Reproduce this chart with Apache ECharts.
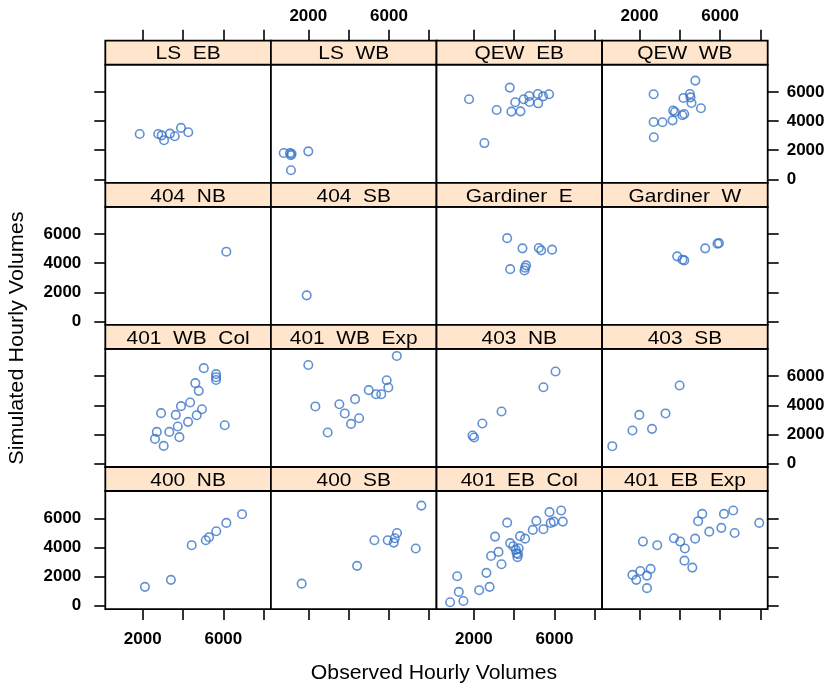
<!DOCTYPE html>
<html>
<head>
<meta charset="utf-8">
<script src="https://cdn.jsdelivr.net/npm/echarts@6/dist/echarts.min.js"></script>
<style>html,body{margin:0;padding:0;background:#fff}#c{width:833px;height:686px}</style>
</head>
<body>
<div id="c"></div>
<script>
// ---- data ----
const panelNames = ['LS  EB','LS  WB','QEW  EB','QEW  WB',
                    '404  NB','404  SB','Gardiner  E','Gardiner  W',
                    '401  WB  Col','401  WB  Exp','403  NB','403  SB',
                    '400  NB','400  SB','401  EB  Col','401  EB  Exp'];
const xTicks = [2000, 4000, 6000, 8000];
const xTickLabels = [2000, 6000];
const yTicks = [0, 2000, 4000, 6000];

const LS_EB_obs = [1850, 2770, 2940, 3060, 3350, 3590, 3900, 4260];
const LS_EB_sim = [3110, 3110, 3020, 2680, 3140, 2960, 3530, 3230];
const LS_WB_obs = [780, 1090, 1130, 1170, 2000, 1140];
const LS_WB_sim = [1810, 1810, 1650, 1750, 1920, 620];
const QEW_EB_obs = [1760, 2520, 3130, 3780, 3860, 4050, 4310, 4470, 4740, 4760, 5170, 5190, 5430, 5730];
const QEW_EB_sim = [5500, 2490, 4760, 6300, 4650, 5290, 4670, 5500, 5720, 5310, 5860, 5220, 5700, 5840];
const QEW_WB_obs = [2700, 2700, 2710, 3140, 3640, 3670, 3760, 4130, 4220, 4180, 4500, 4530, 4580, 4770, 5050];
const QEW_WB_sim = [5840, 3940, 2890, 3920, 4050, 4720, 4620, 4400, 4490, 5590, 5860, 5630, 5240, 6780, 4880];
const N404_NB_obs = [6150];
const N404_NB_sim = [4790];
const N404_SB_obs = [1920];
const N404_SB_sim = [1790];
const GAR_E_obs = [3650, 4410, 5220, 5340, 5880, 3800, 4510, 4590, 4540];
const GAR_E_sim = [5720, 5020, 5040, 4880, 4930, 3590, 3500, 3850, 3690];
const GAR_W_obs = [3870, 4220, 4130, 5260, 5940, 5870];
const GAR_W_sim = [4470, 4190, 4240, 5020, 5380, 5340];
const WB401_COL_obs = [5030, 5640, 5640, 5640, 4610, 4780, 4350, 3900, 3640, 2910, 4940, 4680, 4250, 3740, 3320, 2700, 2610, 3040, 3820, 6070];
const WB401_COL_sim = [6550, 6140, 5930, 5740, 5520, 4990, 4190, 3940, 3340, 3460, 3730, 3320, 2860, 2540, 2170, 2170, 1690, 1210, 1810, 2630];
const WB401_EXP_obs = [2000, 6390, 2350, 2960, 3540, 3810, 4120, 4320, 4520, 5000, 5360, 5620, 5890, 5970];
const WB401_EXP_sim = [6770, 7390, 3920, 2130, 4070, 3440, 2720, 4420, 3110, 5040, 4760, 4760, 5720, 5220];
const N403_NB_obs = [6050, 5450, 3370, 2420, 1930, 2010];
const N403_NB_sim = [6320, 5240, 3570, 2750, 1920, 1790];
const S403_SB_obs = [3990, 1990, 3290, 1650, 2620, 650];
const S403_SB_sim = [5360, 3340, 3440, 2270, 2380, 1190];
const N400_NB_obs = [2110, 3400, 4430, 5130, 5290, 5650, 6150, 6930];
const N400_NB_sim = [1290, 1770, 4150, 4490, 4700, 5110, 5680, 6280];
const S400_SB_obs = [1670, 4420, 5280, 5940, 6240, 6290, 6400, 7330, 7610];
const S400_SB_sim = [1510, 2730, 4490, 4490, 4330, 4630, 4990, 3920, 6870];
const EB401_COL_obs = [820, 1480, 1250, 1170, 2260, 2780, 2620, 2850, 3220, 3370, 3050, 3650, 3800, 3950, 4080, 4120, 4160, 4190, 4290, 4540, 4920, 5100, 5450, 5750, 5810, 5960, 6330, 6410, 4220];
const EB401_COL_sim = [230, 320, 940, 2020, 1060, 1290, 2250, 3410, 3690, 2840, 4740, 5700, 4290, 4080, 3830, 3600, 3330, 3530, 4770, 4600, 5200, 5820, 5250, 6420, 5680, 5770, 6530, 5770, 3940];
const EB401_EXP_obs = [1650, 1840, 2040, 2370, 2370, 2550, 2170, 2880, 3710, 4020, 4250, 4230, 4620, 4760, 4910, 5110, 5460, 6060, 6190, 6650, 6720, 7940];
const EB401_EXP_sim = [2110, 1770, 2380, 2060, 1200, 2520, 4400, 4150, 4630, 4400, 3920, 3090, 2610, 4600, 5800, 6300, 5080, 5340, 6300, 6530, 4990, 5680];

const panelObs = [LS_EB_obs, LS_WB_obs, QEW_EB_obs, QEW_WB_obs, N404_NB_obs, N404_SB_obs, GAR_E_obs, GAR_W_obs,
  WB401_COL_obs, WB401_EXP_obs, N403_NB_obs, S403_SB_obs, N400_NB_obs, S400_SB_obs, EB401_COL_obs, EB401_EXP_obs];
const panelSim = [LS_EB_sim, LS_WB_sim, QEW_EB_sim, QEW_WB_sim, N404_NB_sim, N404_SB_sim, GAR_E_sim, GAR_W_sim,
  WB401_COL_sim, WB401_EXP_sim, N403_NB_sim, S403_SB_sim, N400_NB_sim, S400_SB_sim, EB401_COL_sim, EB401_EXP_sim];

// ---- layout ----
const XMIN = 144, XMAX = 8360, YMIN = -240, YMAX = 7873;
const colLeft = [105.3, 270.9, 436.5, 602.1];
const panelW = 165.6;
const rowTop = [64.7, 206.8, 348.9, 491];
const panelH = 118.1;
const stripH = 24;
const FONT = 'Liberation Sans, Arial, sans-serif';
const PT = '#3a74c8';

const grids = [], xAxes = [], yAxes = [], series = [], graphics = [];
const tickStyle = {color: '#000', width: 1.6};
const lblStyle = {color: '#000', fontSize: 17, fontWeight: 'bold', fontFamily: FONT, formatter: v => String(v)};
const noLine = {show: false, onZero: false};

for (let r = 0; r < 4; r++) {
  for (let c = 0; c < 4; c++) {
    const idx = r * 4 + c;
    grids.push({left: colLeft[c], top: rowTop[r], width: panelW, height: panelH,
      show: true, borderColor: '#000', borderWidth: 1.8, backgroundColor: '#fff', outerBoundsMode: 'none'});
    const xi = xAxes.length;
    xAxes.push({gridIndex: idx, type: 'value', min: XMIN, max: XMAX, position: 'bottom',
      axisLine: noLine, splitLine: {show: false},
      axisTick: {show: r === 3, customValues: xTicks, length: 11, inside: false, lineStyle: tickStyle},
      axisLabel: Object.assign({show: r === 3 && (c === 0 || c === 2), customValues: xTickLabels, margin: 22}, lblStyle)});
    if (r === 0) {
      xAxes.push({gridIndex: idx, type: 'value', min: XMIN, max: XMAX, position: 'top', offset: stripH,
        axisLine: noLine, splitLine: {show: false},
        axisTick: {show: true, customValues: xTicks, length: 11, inside: false, lineStyle: tickStyle},
        axisLabel: Object.assign({show: c === 1 || c === 3, customValues: xTickLabels, margin: 16}, lblStyle)});
    }
    const yi = yAxes.length;
    yAxes.push({gridIndex: idx, type: 'value', min: YMIN, max: YMAX, position: 'left',
      axisLine: noLine, splitLine: {show: false},
      axisTick: {show: c === 0, customValues: yTicks, length: 11, inside: false, lineStyle: tickStyle},
      axisLabel: Object.assign({show: c === 0 && (r === 1 || r === 3), customValues: yTicks, margin: 24}, lblStyle)});
    if (c === 3) {
      yAxes.push({gridIndex: idx, type: 'value', min: YMIN, max: YMAX, position: 'right',
        axisLine: noLine, splitLine: {show: false},
        axisTick: {show: true, customValues: yTicks, length: 11, inside: false, lineStyle: tickStyle},
        axisLabel: Object.assign({show: r === 0 || r === 2, customValues: yTicks, margin: 19}, lblStyle)});
    }
    series.push({type: 'scatter', name: panelNames[idx], xAxisIndex: xi, yAxisIndex: yi,
      symbol: 'circle', symbolSize: 8.5,
      itemStyle: {color: 'rgba(0,0,0,0)', borderColor: PT, borderWidth: 1.6},
      data: panelObs[idx].map((v, i) => [v, panelSim[idx][i]]),
      silent: true, animation: false});
    graphics.push({type: 'rect', shape: {x: colLeft[c], y: rowTop[r] - stripH, width: panelW, height: stripH},
      style: {fill: '#FFE5CC', stroke: '#000', lineWidth: 1.8}, z: 100});
    graphics.push({type: 'text', x: colLeft[c] + panelW / 2, y: rowTop[r] - stripH / 2 + 1.5, scaleX: 1.1,
      style: {text: panelNames[idx], fill: '#000', font: '19px ' + FONT, textAlign: 'center', textVerticalAlign: 'middle'}, z: 101});
  }
}
graphics.push({type: 'text', x: 434, y: 673, scaleX: 1.06,
  style: {text: 'Observed Hourly Volumes', fill: '#000', font: '20px ' + FONT, textAlign: 'center', textVerticalAlign: 'middle'}});
graphics.push({type: 'text', x: 17.5, y: 338, rotation: Math.PI / 2, scaleX: 1.08,
  style: {text: 'Simulated Hourly Volumes', fill: '#000', font: '20px ' + FONT, textAlign: 'center', textVerticalAlign: 'middle'}});

const chart = echarts.init(document.getElementById('c'), null, {renderer: 'canvas'});
chart.setOption({
  animation: false,
  backgroundColor: '#fff',
  grid: grids, xAxis: xAxes, yAxis: yAxes, series: series, graphic: graphics
});
</script>
</body>
</html>
